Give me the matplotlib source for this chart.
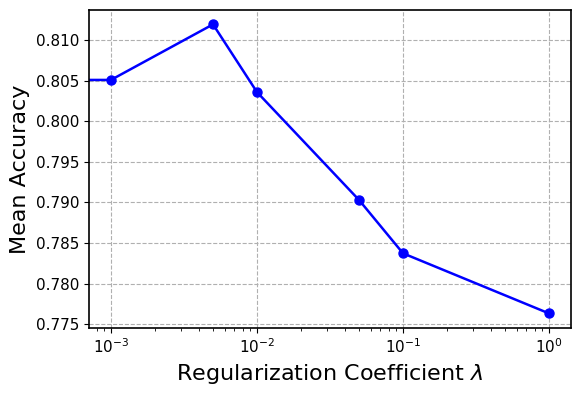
import matplotlib
matplotlib.use("Agg")
import matplotlib.pyplot as plt

# regularization strengths (0 = no regularization)
lambdas = [0, 1e-3, 5e-3, 1e-2, 5e-2, 1e-1, 1]
mean_acc = [0.8051, 0.8051, 0.81195, 0.8036, 0.7903, 0.78373, 0.77632]

fig, ax = plt.subplots(figsize=(5.82, 3.96), dpi=100)
ax.plot(lambdas, mean_acc, marker="o", color="blue", linewidth=1.8, markersize=6.5)
ax.set_xscale("log")
ax.set_xlabel(r"Regularization Coefficient $\lambda$", fontsize=16)
ax.set_ylabel("Mean Accuracy", fontsize=16)
ax.tick_params(labelsize=11)
ax.grid(True, linestyle="--", color="#b0b0b0")
for s in ax.spines.values():
    s.set_linewidth(1.2)
fig.subplots_adjust(left=0.153, right=0.981, top=0.975, bottom=0.172)
fig.savefig("out.png")
